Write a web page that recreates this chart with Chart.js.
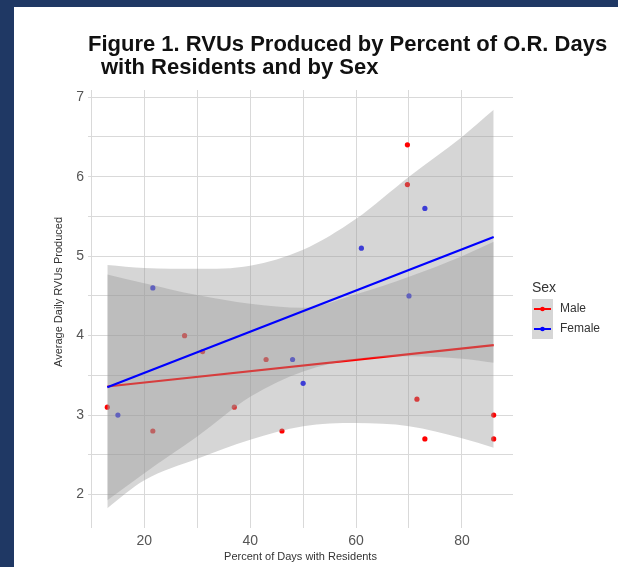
<!DOCTYPE html>
<html>
<head>
<meta charset="utf-8">
<script src="https://cdn.jsdelivr.net/npm/chart.js@4.4.1/dist/chart.umd.min.js"></script>
<style>
  html, body { margin: 0; padding: 0; background: #1f3864; }
  #wrap { position: absolute; left: 14px; top: 7px; width: 604px; height: 560px; background: #fff; }
  canvas { display: block; }
</style>
</head>
<body>
<div id="wrap"><canvas id="rvuChart" width="604" height="560"></canvas></div>
<script>
// Data
const maleX = [13, 21.6, 27.6, 31, 37, 43, 46, 69.7, 69.7, 71.5, 73, 86, 86];
const maleY = [3.1, 2.8, 4.0, 3.8, 3.1, 3.7, 2.8, 6.4, 5.9, 3.2, 2.7, 3.0, 2.7];
const femaleX = [15, 21.6, 48, 50, 61, 70, 73];
const femaleY = [3.0, 4.6, 3.7, 3.4, 5.1, 4.5, 5.6];

// Linear fits and their confidence bands
const fitX = [13, 86];
const maleFit = [3.36, 3.88];
const femaleFit = [3.35, 5.24];
const bandX = [13, 20, 30, 40, 50, 60, 70, 80, 86];
const maleUpper = [4.77, 4.66, 4.51, 4.40, 4.35, 4.52, 4.74, 5.00, 5.18];
const maleLower = [1.83, 2.18, 2.45, 2.69, 2.86, 2.90, 2.86, 2.71, 2.59];
const femaleUpper = [4.89, 4.85, 4.84, 4.88, 5.08, 5.47, 6.00, 6.50, 6.84];
const femaleLower = [1.93, 2.27, 2.73, 3.23, 3.55, 3.70, 3.74, 3.71, 3.66];

// Axes
const xGrid = [10, 20, 30, 40, 50, 60, 70, 80];
const xLabels = [20, 40, 60, 80];
const yGrid = [2, 2.5, 3, 3.5, 4, 4.5, 5, 5.5, 6, 6.5, 7];
const yLabels = [2, 3, 4, 5, 6, 7];

const titleLines = ["Figure 1. RVUs Produced by Percent of O.R. Days", "with Residents and by Sex"];
const yTitle = "Average Daily RVUs Produced";
const legendTitle = "Sex";
const groups = ["Male", "Female"];

const RED = "#ff0000";
const BLUE = "#0000ff";
const BAND = "rgba(153,153,153,0.4)";
const FONT = '"Liberation Sans", Arial, sans-serif';

const pts = (xs, ys) => xs.map((x, i) => ({ x: x, y: ys[i] }));

// Title, y-axis title and legend drawn on the canvas
const extras = {
    id: "extras",
    afterDraw(chart) {
        const ctx = chart.ctx;
        ctx.save();
        ctx.fillStyle = "#111";
        ctx.textBaseline = "alphabetic";
        ctx.font = "bold 22px " + FONT;
        ctx.fillText(titleLines[0], 74, 44);
        ctx.fillText(titleLines[1], 87, 67);

        // y title
        ctx.save();
        ctx.translate(45, 285);
        ctx.rotate(-Math.PI / 2);
        ctx.fillStyle = "#333";
        ctx.font = "11px " + FONT;
        ctx.textAlign = "center";
        ctx.textBaseline = "middle";
        ctx.fillText(yTitle, 0, 0);
        ctx.restore();

        // legend
        ctx.fillStyle = "#333";
        ctx.font = "14px " + FONT;
        ctx.textBaseline = "middle";
        ctx.fillText(legendTitle, 518, 281);
        const colors = [RED, BLUE];
        groups.forEach((g, i) => {
            const top = 292 + i * 20;
            ctx.fillStyle = BAND;
            ctx.fillRect(518, top, 21, 20);
            ctx.strokeStyle = colors[i];
            ctx.lineWidth = 2;
            ctx.beginPath();
            ctx.moveTo(520, top + 10);
            ctx.lineTo(537, top + 10);
            ctx.stroke();
            ctx.fillStyle = colors[i];
            ctx.beginPath();
            ctx.arc(528.5, top + 10, 2.3, 0, Math.PI * 2);
            ctx.fill();
            ctx.fillStyle = "#333";
            ctx.font = "12px " + FONT;
            ctx.fillText(g, 546, top + 10);
        });
        ctx.restore();
    }
};

const ctx = document.getElementById("rvuChart").getContext("2d");

new Chart(ctx, {
    type: "scatter",
    data: {
        datasets: [
            { label: "Male", data: pts(maleX, maleY), backgroundColor: RED, borderWidth: 0, pointRadius: 2.6, order: 5 },
            { label: "Female", data: pts(femaleX, femaleY), backgroundColor: BLUE, borderWidth: 0, pointRadius: 2.6, order: 5 },
            { type: "line", label: "maleUpper", data: pts(bandX, maleUpper), borderWidth: 0, pointRadius: 0,
              cubicInterpolationMode: "monotone", fill: "+1", backgroundColor: BAND, order: 4 },
            { type: "line", label: "maleLower", data: pts(bandX, maleLower), borderWidth: 0, pointRadius: 0,
              cubicInterpolationMode: "monotone", fill: false, order: 4 },
            { type: "line", label: "maleFit", data: pts(fitX, maleFit), borderColor: RED, borderWidth: 2.2,
              pointRadius: 0, fill: false, order: 3 },
            { type: "line", label: "femaleUpper", data: pts(bandX, femaleUpper), borderWidth: 0, pointRadius: 0,
              cubicInterpolationMode: "monotone", fill: "+1", backgroundColor: BAND, order: 2 },
            { type: "line", label: "femaleLower", data: pts(bandX, femaleLower), borderWidth: 0, pointRadius: 0,
              cubicInterpolationMode: "monotone", fill: false, order: 2 },
            { type: "line", label: "femaleFit", data: pts(fitX, femaleFit), borderColor: BLUE, borderWidth: 2.2,
              pointRadius: 0, fill: false, order: 1 }
        ]
    },
    options: {
        responsive: false,
        animation: false,
        layout: { padding: { left: 36, top: 83, right: 105, bottom: 0 } },
        plugins: {
            legend: { display: false },
            tooltip: { enabled: false }
        },
        scales: {
            x: {
                type: "linear",
                min: 9.35,
                max: 89.65,
                afterBuildTicks: (axis) => { axis.ticks = xGrid.map(v => ({ value: v })); },
                afterFit: (axis) => { axis.height = 39; },
                border: { display: false },
                grid: { color: "#d9d9d9", lineWidth: 1, drawTicks: false },
                ticks: {
                    padding: 5,
                    color: "#555",
                    font: { family: FONT, size: 14 },
                    callback: (v) => xLabels.includes(v) ? String(v) : ""
                },
                title: {
                    display: true,
                    text: "Percent of Days with Residents",
                    color: "#333",
                    font: { family: FONT, size: 11 },
                    padding: { top: 0, bottom: 3 }
                }
            },
            y: {
                type: "linear",
                min: 1.58,
                max: 7.09,
                afterBuildTicks: (axis) => { axis.ticks = yGrid.map(v => ({ value: v })); },
                afterFit: (axis) => { axis.width = 38; },
                border: { display: false },
                grid: { color: "#d9d9d9", lineWidth: 1, drawTicks: false },
                ticks: {
                    padding: 4,
                    color: "#555",
                    font: { family: FONT, size: 14 },
                    callback: (v) => yLabels.includes(v) ? String(v) : ""
                },
                title: { display: false }
            }
        }
    },
    plugins: [extras]
});
</script>
</body>
</html>
